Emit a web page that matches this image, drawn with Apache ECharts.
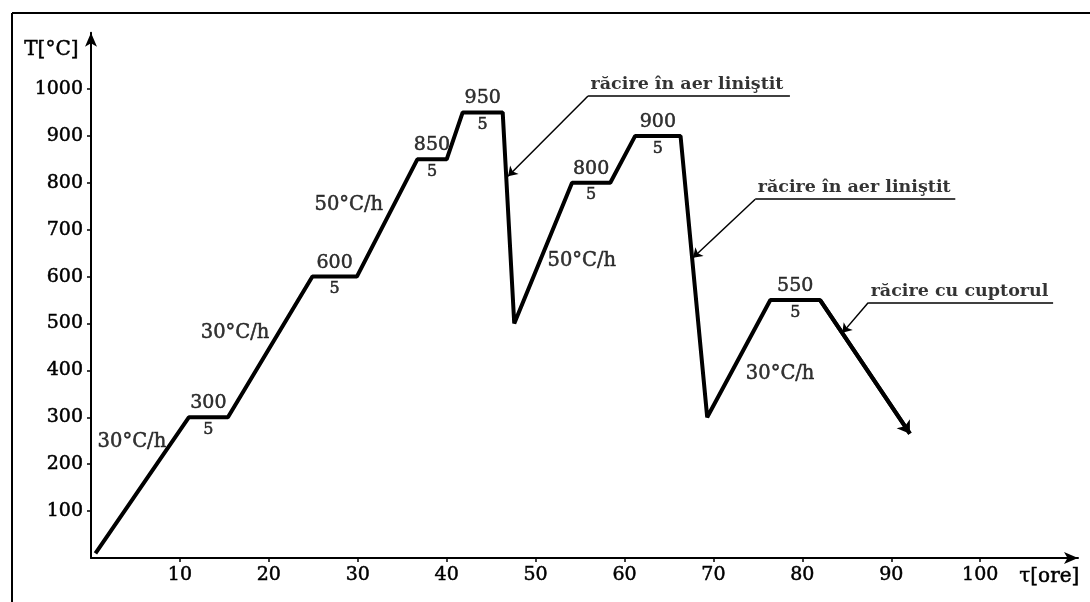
<!DOCTYPE html>
<html><head><meta charset="utf-8">
<script src="https://cdn.jsdelivr.net/npm/echarts@6/dist/echarts.min.js"></script>
<style>html,body{margin:0;padding:0;background:#fff}#c{width:1090px;height:602px}</style>
</head><body><div id="c"></div>
<script>
// ---- data ----
const timeH = [0.5, 11, 15.4, 24.9, 29.9, 36.7, 40.0, 41.8, 46.3, 47.6, 54.1, 58.4, 61.2, 66.3, 69.3, 76.4, 82.0, 92.1];
const tempC = [10, 300, 300, 600, 600, 850, 850, 950, 950, 500, 800, 800, 900, 900, 300, 550, 550, 265];
const plateauTemps = [300, 600, 850, 950, 800, 900, 550];
const plateauStart = [11, 24.9, 36.7, 41.8, 54.1, 61.2, 76.4];
const plateauEnd = [15.4, 29.9, 40.0, 46.3, 58.4, 66.3, 82.0];
const plateauHours = ['5', '5', '5', '5', '5', '5', '5'];
const rateText = ['30°C/h', '30°C/h', '50°C/h', '50°C/h', '30°C/h'];
const rateX = [4.6, 16.2, 29.0, 55.2, 77.5];
const rateY = [247, 480, 753, 633, 392];
const noteText = ['răcire în aer liniştit', 'răcire în aer liniştit', 'răcire cu cuptorul'];
const noteTipX = [46.9, 67.7, 84.5];
const noteTipY = [814, 640, 480];
const noteElbowX = [55.9, 74.7, 87.4];
const noteElbowY = [985, 765, 544];
const noteEndX = [78.6, 97.2, 108.2];
const xTicks = [10, 20, 30, 40, 50, 60, 70, 80, 90, 100];
const yTicks = [100, 200, 300, 400, 500, 600, 700, 800, 900, 1000];
const xName = 'τ[ore]';
const yName = 'T[°C]';

// ---- chart ----
const FONT = 'DejaVu Serif';
const chart = echarts.init(document.getElementById('c'), null, {renderer: 'canvas'});
const curve = timeH.map((x, i) => [x, tempC[i]]);
const n = curve.length;
const hidden = {color: 'rgba(0,0,0,0)'};
const heavy = {color: '#000', textBorderColor: '#000', textBorderWidth: 0.5, fontFamily: FONT};

const option = {
  animation: false,
  backgroundColor: '#fff',
  grid: {left: 91, right: 12, top: 32.7, bottom: 44},
  xAxis: {
    type: 'value', min: 0, max: 111, interval: 10,
    splitLine: {show: false},
    axisLine: {show: true, symbol: ['none', 'arrow'], symbolSize: [9, 14], lineStyle: {color: '#000', width: 2}},
    axisTick: {show: true, customValues: xTicks, length: 4, lineStyle: {color: '#000', width: 1.5}},
    axisLabel: Object.assign({customValues: xTicks, formatter: v => String(v), fontSize: 19, margin: 8}, heavy)
  },
  yAxis: {
    type: 'value', min: 0, max: 1120, interval: 100,
    splitLine: {show: false},
    axisLine: {show: true, symbol: ['none', 'arrow'], symbolSize: [9, 14], lineStyle: {color: '#000', width: 2}},
    axisTick: {show: true, customValues: yTicks, length: 4, lineStyle: {color: '#000', width: 1.5}},
    axisLabel: Object.assign({customValues: yTicks, formatter: v => String(v), fontSize: 19, margin: 8}, heavy)
  },
  graphic: [
    {type: 'line', shape: {x1: 12, y1: 13, x2: 1090, y2: 13}, style: {stroke: '#000', lineWidth: 2}},
    {type: 'line', shape: {x1: 12, y1: 13, x2: 12, y2: 602}, style: {stroke: '#000', lineWidth: 2}},
    {type: 'text', left: 24, top: 40, style: {text: yName, font: '20px "DejaVu Serif"', fill: '#000', stroke: '#000', lineWidth: 0.5}},
    {type: 'text', left: 1019, top: 567, style: {text: xName, font: '20px "DejaVu Serif"', fill: '#000', stroke: '#000', lineWidth: 0.5}}
  ],
  series: [
    {
      type: 'line', data: curve, symbol: 'none',
      lineStyle: {color: '#000', width: 4}, z: 3
    },
    {
      type: 'lines', coordinateSystem: 'cartesian2d',
      data: [{coords: [curve[n - 2], curve[n - 1]]}],
      symbol: ['none', 'arrow'], symbolSize: 12,
      lineStyle: {color: '#000', width: 4, opacity: 1}, z: 4
    },
    {
      type: 'lines', coordinateSystem: 'cartesian2d',
      data: noteText.map((t, i) => ({coords: [[noteElbowX[i], noteElbowY[i]], [noteTipX[i], noteTipY[i]]]})),
      symbol: ['none', 'arrow'], symbolSize: 9,
      lineStyle: {color: '#000', width: 1.5, opacity: 1}, z: 4
    },
    {
      type: 'lines', coordinateSystem: 'cartesian2d',
      data: noteText.map((t, i) => ({coords: [[noteElbowX[i], noteElbowY[i]], [noteEndX[i], noteElbowY[i]]]})),
      symbol: 'none',
      lineStyle: {color: '#000', width: 1.5, opacity: 1}, z: 4
    },
    {
      type: 'scatter', symbolSize: 1, itemStyle: hidden, z: 5,
      data: noteText.map((t, i) => ({value: [noteElbowX[i], noteElbowY[i]], name: t})),
      label: Object.assign({show: true, formatter: p => p.name, position: [3, -2], align: 'left', verticalAlign: 'bottom',
        fontWeight: 'bold', fontSize: 17.5}, heavy, {textBorderWidth: 0})
    },
    {
      type: 'scatter', symbolSize: 1, itemStyle: hidden, z: 5,
      data: plateauTemps.map((t, i) => ({value: [(plateauStart[i] + plateauEnd[i]) / 2, t], name: String(t)})),
      label: Object.assign({show: true, formatter: p => p.name, position: 'top', distance: 4, fontSize: 19}, heavy)
    },
    {
      type: 'scatter', symbolSize: 1, itemStyle: hidden, z: 5,
      data: plateauTemps.map((t, i) => ({value: [(plateauStart[i] + plateauEnd[i]) / 2, t], name: plateauHours[i]})),
      label: Object.assign({show: true, formatter: p => p.name, position: 'bottom', distance: 4, fontSize: 16}, heavy)
    },
    {
      type: 'scatter', symbolSize: 1, itemStyle: hidden, z: 5,
      data: rateText.map((t, i) => ({value: [rateX[i], rateY[i]], name: t})),
      label: Object.assign({show: true, formatter: p => p.name, position: 'inside', fontSize: 19.5}, heavy)
    }
  ]
};
chart.setOption(option);
</script>
</body></html>
